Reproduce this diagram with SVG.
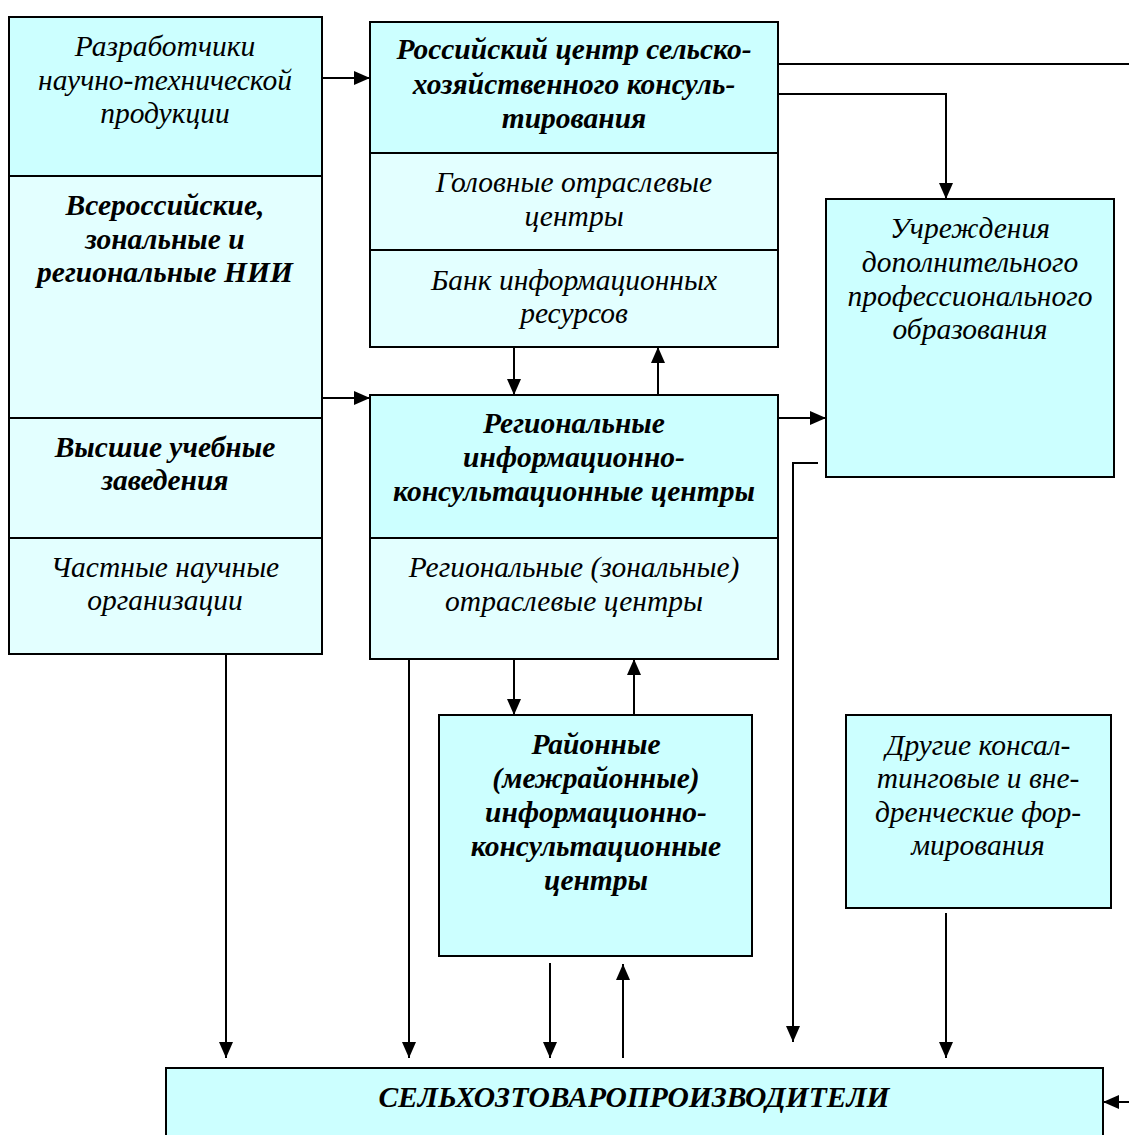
<svg xmlns="http://www.w3.org/2000/svg" width="1129" height="1135" viewBox="0 0 1129 1135">
<defs>
<style>
.d{fill:#CCFFFF;stroke:#000;stroke-width:2}
.l{fill:#E3FFFF;stroke:#000;stroke-width:2}
.t{font-family:"Liberation Serif","Times New Roman",serif;font-style:italic;font-size:29.5px;text-anchor:middle;fill:#000}
.b{font-weight:bold}
.c{fill:none;stroke:#000;stroke-width:2}
</style>
<marker id="ah" viewBox="0 0 16 14" refX="16" refY="7" markerWidth="16" markerHeight="14" markerUnits="userSpaceOnUse" orient="auto">
<path d="M0,0L16,7L0,14z" fill="#000"/>
</marker>
</defs>
<rect width="1129" height="1135" fill="#fff"/>

<g id="left-column">
<rect class="d" x="9" y="17" width="313" height="159"/>
<rect class="l" x="9" y="176" width="313" height="242"/>
<rect class="l" x="9" y="418" width="313" height="120"/>
<rect class="l" x="9" y="538" width="313" height="116"/>
<text class="t" x="165" y="56">Разработчики</text>
<text class="t" x="165" y="90">научно-технической</text>
<text class="t" x="165" y="123">продукции</text>
<text class="t b" x="165" y="215">Всероссийские,</text>
<text class="t b" x="165" y="249">зональные и</text>
<text class="t b" x="165" y="282">региональные НИИ</text>
<text class="t b" x="165" y="457">Высшие учебные</text>
<text class="t b" x="165" y="490">заведения</text>
<text class="t" x="165" y="577">Частные научные</text>
<text class="t" x="165" y="610">организации</text>
</g>

<g id="russian-center">
<rect class="d" x="370" y="22" width="408" height="131"/>
<rect class="l" x="370" y="153" width="408" height="97"/>
<rect class="l" x="370" y="250" width="408" height="97"/>
<text class="t b" x="574" y="59">Российский центр сельско-</text>
<text class="t b" x="574" y="94">хозяйственного консуль-</text>
<text class="t b" x="574" y="128">тирования</text>
<text class="t" x="574" y="192">Головные отраслевые</text>
<text class="t" x="574" y="226">центры</text>
<text class="t" x="574" y="290">Банк информационных</text>
<text class="t" x="574" y="323">ресурсов</text>
</g>

<g id="dpo">
<rect class="d" x="826" y="199" width="288" height="278"/>
<text class="t" x="970" y="238">Учреждения</text>
<text class="t" x="970" y="272">дополнительного</text>
<text class="t" x="970" y="306">профессионального</text>
<text class="t" x="970" y="339">образования</text>
</g>

<g id="regional-centers">
<rect class="d" x="370" y="395" width="408" height="143"/>
<rect class="l" x="370" y="538" width="408" height="121"/>
<text class="t b" x="574" y="433">Региональные</text>
<text class="t b" x="574" y="467">информационно-</text>
<text class="t b" x="574" y="501">консультационные центры</text>
<text class="t" x="574" y="577">Региональные (зональные)</text>
<text class="t" x="574" y="611">отраслевые центры</text>
</g>

<g id="district-centers">
<rect class="d" x="439" y="715" width="313" height="241"/>
<text class="t b" x="596" y="754">Районные</text>
<text class="t b" x="596" y="788">(межрайонные)</text>
<text class="t b" x="596" y="822">информационно-</text>
<text class="t b" x="596" y="856">консультационные</text>
<text class="t b" x="596" y="890">центры</text>
</g>

<g id="other">
<rect class="d" x="846" y="715" width="265" height="193"/>
<text class="t" x="978" y="755">Другие консал-</text>
<text class="t" x="978" y="788">тинговые и вне-</text>
<text class="t" x="978" y="822">дренческие фор-</text>
<text class="t" x="978" y="855">мирования</text>
</g>

<g id="producers">
<rect class="d" x="166" y="1068" width="937" height="80"/>
<text class="t b" x="634" y="1107">СЕЛЬХОЗТОВАРОПРОИЗВОДИТЕЛИ</text>
</g>

<g id="connectors">
<line class="c" x1="322" y1="78" x2="370" y2="78" marker-end="url(#ah)"/>
<line class="c" x1="322" y1="398" x2="370" y2="398" marker-end="url(#ah)"/>
<line class="c" x1="778" y1="64" x2="1129" y2="64"/>
<polyline class="c" points="778,94 946,94 946,199" marker-end="url(#ah)"/>
<line class="c" x1="514" y1="347" x2="514" y2="395" marker-end="url(#ah)"/>
<line class="c" x1="658" y1="395" x2="658" y2="347" marker-end="url(#ah)"/>
<line class="c" x1="778" y1="418" x2="826" y2="418" marker-end="url(#ah)"/>
<polyline class="c" points="818,463 793,463 793,1042" marker-end="url(#ah)"/>
<line class="c" x1="226" y1="654" x2="226" y2="1058" marker-end="url(#ah)"/>
<line class="c" x1="409" y1="659" x2="409" y2="1058" marker-end="url(#ah)"/>
<line class="c" x1="514" y1="659" x2="514" y2="715" marker-end="url(#ah)"/>
<line class="c" x1="634" y1="715" x2="634" y2="659" marker-end="url(#ah)"/>
<line class="c" x1="550" y1="963" x2="550" y2="1058" marker-end="url(#ah)"/>
<line class="c" x1="623" y1="1058" x2="623" y2="964" marker-end="url(#ah)"/>
<line class="c" x1="946" y1="913" x2="946" y2="1058" marker-end="url(#ah)"/>
<line class="c" x1="1129" y1="1102" x2="1103" y2="1102" marker-end="url(#ah)"/>
</g>
</svg>
